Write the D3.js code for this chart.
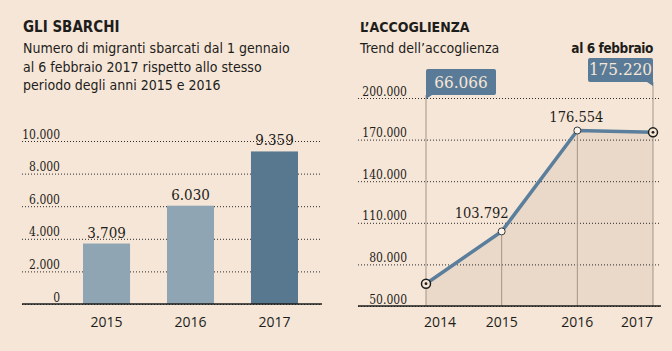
<!DOCTYPE html>
<html lang="it">
<head>
<meta charset="utf-8">
<title>Gli sbarchi / L'accoglienza</title>
<script src="https://d3js.org/d3.v7.min.js"></script>
<style>
  body { margin: 0; background: #f6e6d7; }
  svg { display: block; }
  .sans { font-family: "Liberation Sans Narrow", "DejaVu Sans Condensed", sans-serif; fill: #1d1d1b; }
  .serif { font-family: "DejaVu Serif Condensed", "DejaVu Serif", serif; fill: #1d1d1b; }
  .year { font-family: "Open Sans", sans-serif; font-size: 14px; fill: #1d1d1b; }
</style>
</head>
<body>
<script>
// data
const barYears = ["2015", "2016", "2017"];
const barValues = [3709, 6030, 9359];
const barTicks = [0, 2000, 4000, 6000, 8000, 10000];

const lineYears = ["2014", "2015", "2016", "2017"];
const lineValues = [66066, 103792, 176554, 175220];
const lineTicks = [50000, 80000, 110000, 140000, 170000, 200000];

const width = 672, height = 351;

const it = d3.formatLocale({ decimal: ",", thousands: ".", grouping: [3], currency: ["", "€"] });
const fmt = it.format(",d");

const svg = d3.select("body").append("svg")
  .attr("width", width)
  .attr("height", height);

svg.append("rect").attr("width", width).attr("height", height).attr("fill", "#f6e6d7");

// titles
function titles(x, title, lines, tsize) {
  svg.append("text").attr("class", "sans")
    .attr("x", x).attr("y", 32)
    .attr("font-size", tsize).attr("font-weight", "bold")
    .text(title);
  lines.forEach((l, i) => {
    svg.append("text").attr("class", "sans")
      .attr("x", x).attr("y", 53 + i * 18.7)
      .attr("font-size", 14)
      .text(l);
  });
}
titles(23, "GLI SBARCHI", ["Numero di migranti sbarcati dal 1 gennaio", "al 6 febbraio 2017 rispetto allo stesso", "periodo degli anni 2015 e 2016"], 15);
titles(360, "L\u2019ACCOGLIENZA", ["Trend dell\u2019accoglienza"], 14);

// ---------- left: bars ----------
const xBar = d3.scaleBand()
  .domain(barYears)
  .range([62, 319])
  .paddingInner(0.44)
  .paddingOuter(0.25);

const yBar = d3.scaleLinear()
  .domain([0, 10000])
  .range([304, 141]);

const leftAxis = svg.append("g")
  .attr("transform", "translate(60,0)")
  .call(d3.axisLeft(yBar).tickValues(barTicks).tickFormat(fmt).tickSize(0).tickPadding(0));
leftAxis.select(".domain").remove();
leftAxis.selectAll(".tick line")
  .attr("x1", 22 - 60).attr("x2", 320 - 60)
  .attr("stroke", "#2a2a2a").attr("stroke-dasharray", "1,2");
leftAxis.selectAll(".tick text")
  .attr("class", "serif").attr("font-size", 12).attr("dy", -3).attr("x", 0);

svg.selectAll(".bar")
  .data(barValues)
  .enter().append("rect")
  .attr("class", "bar")
  .attr("x", (d, i) => xBar(barYears[i]))
  .attr("y", d => yBar(d))
  .attr("width", xBar.bandwidth())
  .attr("height", d => yBar(0) - yBar(d))
  .attr("fill", (d, i) => i === barValues.length - 1 ? "#58788f" : "#8fa5b3");

svg.selectAll(".barlabel")
  .data(barValues)
  .enter().append("text")
  .attr("class", "serif")
  .attr("x", (d, i) => xBar(barYears[i]) + xBar.bandwidth() / 2)
  .attr("y", d => yBar(d) - 6)
  .attr("text-anchor", "middle")
  .attr("font-size", 15)
  .text(d => fmt(d));

svg.append("line")
  .attr("x1", 22).attr("x2", 322)
  .attr("y1", yBar(0)).attr("y2", yBar(0))
  .attr("stroke", "#1d1d1b").attr("stroke-width", 1.5);

svg.selectAll(".baryear")
  .data(barYears)
  .enter().append("text")
  .attr("class", "year")
  .attr("x", d => xBar(d) + xBar.bandwidth() / 2)
  .attr("y", 327)
  .attr("text-anchor", "middle")
  .text(d => d);

// ---------- right: line ----------
const xLine = d3.scalePoint()
  .domain(lineYears)
  .range([426, 653]);

const yLine = d3.scaleLinear()
  .domain([50000, 200000])
  .range([306, 98]);

const pts = lineYears.map((y, i) => ({ year: y, value: lineValues[i] }));

svg.append("path")
  .datum(pts)
  .attr("fill", "#ead8c9")
  .attr("d", d3.area().x(d => xLine(d.year)).y0(yLine(50000)).y1(d => yLine(d.value)));

const rightAxis = svg.append("g")
  .attr("transform", "translate(407,0)")
  .call(d3.axisLeft(yLine).tickValues(lineTicks).tickFormat(fmt).tickSize(0).tickPadding(0));
rightAxis.select(".domain").remove();
rightAxis.selectAll(".tick line")
  .attr("x1", 358 - 407).attr("x2", 661 - 407)
  .attr("stroke", "#2a2a2a").attr("stroke-dasharray", "1,2");
rightAxis.selectAll(".tick text")
  .attr("class", "serif").attr("font-size", 12).attr("dy", -3).attr("x", 0);

// vertical guides
const last = pts.length - 1;
svg.selectAll(".guide")
  .data(pts)
  .enter().append("line")
  .attr("x1", d => xLine(d.year)).attr("x2", d => xLine(d.year))
  .attr("y1", (d, i) => i === 0 ? 95 : i === last ? 82 : yLine(d.value))
  .attr("y2", yLine(50000))
  .attr("stroke", "#a39588").attr("stroke-width", 1);

svg.append("path")
  .datum(pts)
  .attr("fill", "none")
  .attr("stroke", "#5a7e9b")
  .attr("stroke-width", 3.5)
  .attr("d", d3.line().x(d => xLine(d.year)).y(d => yLine(d.value)));

svg.append("line")
  .attr("x1", 358).attr("x2", 661)
  .attr("y1", yLine(50000)).attr("y2", yLine(50000))
  .attr("stroke", "#1d1d1b").attr("stroke-width", 1.5);

// markers
pts.forEach((d, i) => {
  const cx = xLine(d.year), cy = yLine(d.value);
  if (i === 0 || i === last) {
    svg.append("circle").attr("cx", cx).attr("cy", cy).attr("r", 4.5)
      .attr("fill", "#f6e6d7").attr("stroke", "#1d1d1b").attr("stroke-width", 1.5);
    svg.append("circle").attr("cx", cx).attr("cy", cy).attr("r", 1.4).attr("fill", "#1d1d1b");
  } else {
    svg.append("circle").attr("cx", cx).attr("cy", cy).attr("r", 3.5)
      .attr("fill", "#fbf4ec").attr("stroke", "#3a3a3a").attr("stroke-width", 1);
  }
});

// value labels
svg.append("text").attr("class", "serif")
  .attr("x", xLine("2015") + 7).attr("y", yLine(lineValues[1]) - 13)
  .attr("text-anchor", "end").attr("font-size", 14.5)
  .text(fmt(lineValues[1]));
svg.append("text").attr("class", "serif")
  .attr("x", xLine("2016") - 1).attr("y", yLine(lineValues[2]) - 9)
  .attr("text-anchor", "middle").attr("font-size", 14.5)
  .text(fmt(lineValues[2]));

// callouts
function callout(x, top, w, h, value, side) {
  const x0 = side === "left" ? x : x - w;
  const g = svg.append("g");
  g.append("rect").attr("x", x0).attr("y", top).attr("width", w).attr("height", h)
    .attr("rx", 2).attr("fill", "#5a7b97");
  const tail = side === "left"
    ? `M${x},${top + h - 2}L${x},${top + h + 4}L${x + 6},${top + h}Z`
    : `M${x},${top + h - 2}L${x},${top + h + 4}L${x - 6},${top + h}Z`;
  g.append("path").attr("d", tail).attr("fill", "#5a7b97");
  g.append("text").attr("class", "serif")
    .attr("x", x0 + w / 2).attr("y", top + h - 7)
    .attr("text-anchor", "middle").attr("font-size", 17)
    .style("fill", "#f6e6d7")
    .text(fmt(value));
}
callout(xLine("2014"), 69, 70, 26, lineValues[0], "left");
callout(xLine("2017"), 58, 65, 24, lineValues[last], "right");

svg.append("text").attr("class", "sans")
  .attr("x", xLine("2017")).attr("y", 53)
  .attr("text-anchor", "end").attr("font-size", 13.5).attr("font-weight", "bold")
  .attr("letter-spacing", -0.4)
  .text("al 6 febbraio");

svg.selectAll(".lineyear")
  .data(lineYears)
  .enter().append("text")
  .attr("class", "year")
  .attr("x", d => xLine(d))
  .attr("y", 327)
  .attr("text-anchor", (d, i) => i === 0 ? "start" : i === last ? "end" : "middle")
  .attr("dx", (d, i) => i === 0 ? -2 : 0)
  .text(d => d);
</script>
</body>
</html>
